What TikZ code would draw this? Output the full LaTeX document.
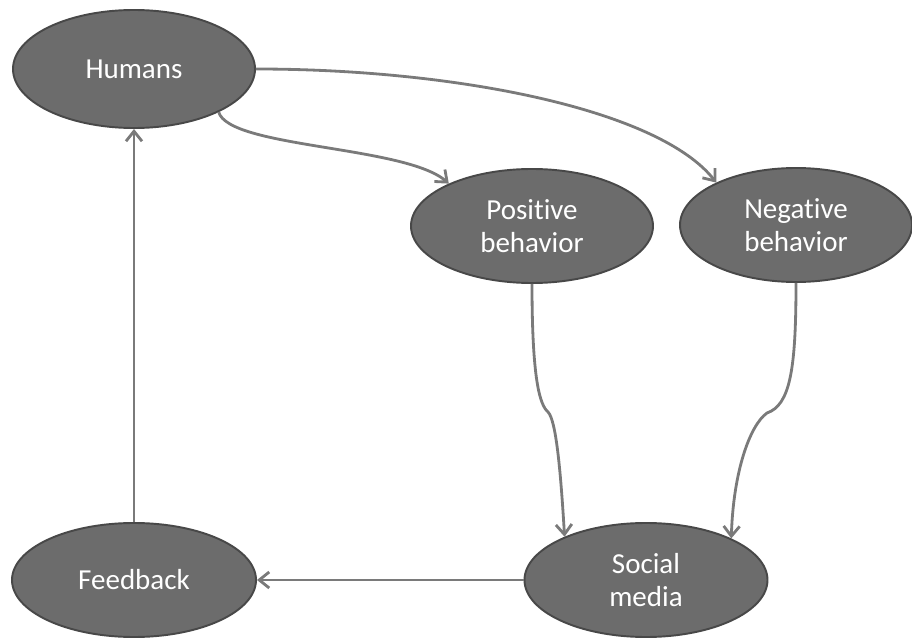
\documentclass[tikz,border=0pt]{standalone}
\usepackage{fontspec}
\setmainfont{Carlito}[Ligatures=NoCommon]
\usetikzlibrary{shapes.geometric,arrows.meta}

\definecolor{blobfill}{RGB}{108,108,108}
\definecolor{blobline}{RGB}{72,72,72}
\definecolor{linkgray}{RGB}{122,122,122}

\begin{document}
\begin{tikzpicture}[
    blob/.style = {ellipse, draw=blobline, line width=1.1pt, fill=blobfill, text=white,
                   minimum width=4.84cm, minimum height=2.28cm, inner sep=0pt, align=center,
                   font=\fontsize{16.5}{19}\selectfont},
    link/.style = {draw=linkgray, line width=1.6pt,
                   -{Straight Barb[length=0.2cm, width=0.32cm]}}
  ]

    \useasboundingbox (0,0) rectangle (18.24,12.78);

    \node[blob, minimum height=2.36cm] (humans) at (2.68,11.40) {Humans};
    \node[blob] (positive) at (10.64,8.26) {Positive\\behavior};
    \node[blob, minimum width=4.64cm] (negative) at (15.92,8.28) {Negative\\behavior};
    \node[blob, minimum width=4.86cm] (social) at (12.92,1.18) {Social\\media};
    \node[blob, minimum width=4.88cm] (feedback) at (2.68,1.18) {Feedback};

    \coordinate (posbend) at (10.96,4.54);
    \coordinate (negbend) at (15.34,4.52);

    \draw[link] (humans.-27) .. controls +(0.22,-0.72) and +(-0.86,0.76) .. (positive.153);
    \draw[link] (humans.east) .. controls +(4,0) and +(-1.14,1.46) .. (negative.152);

    \draw[link] (positive.south) .. controls +(0,-1.94) and +(-0.16,0.14) .. (posbend)
                .. controls +(0.16,-0.16) and +(-0.08,1.34) .. (social.152);
    \draw[link] (negative.south) .. controls +(0,-1.74) and +(0.46,0.16) .. (negbend)
                .. controls +(-0.34,-0.24) and +(0.04,1.34) .. (social.26);

    \draw[link] (social) -- (feedback);
    \draw[link] (feedback) -- (humans);

\end{tikzpicture}
\end{document}
